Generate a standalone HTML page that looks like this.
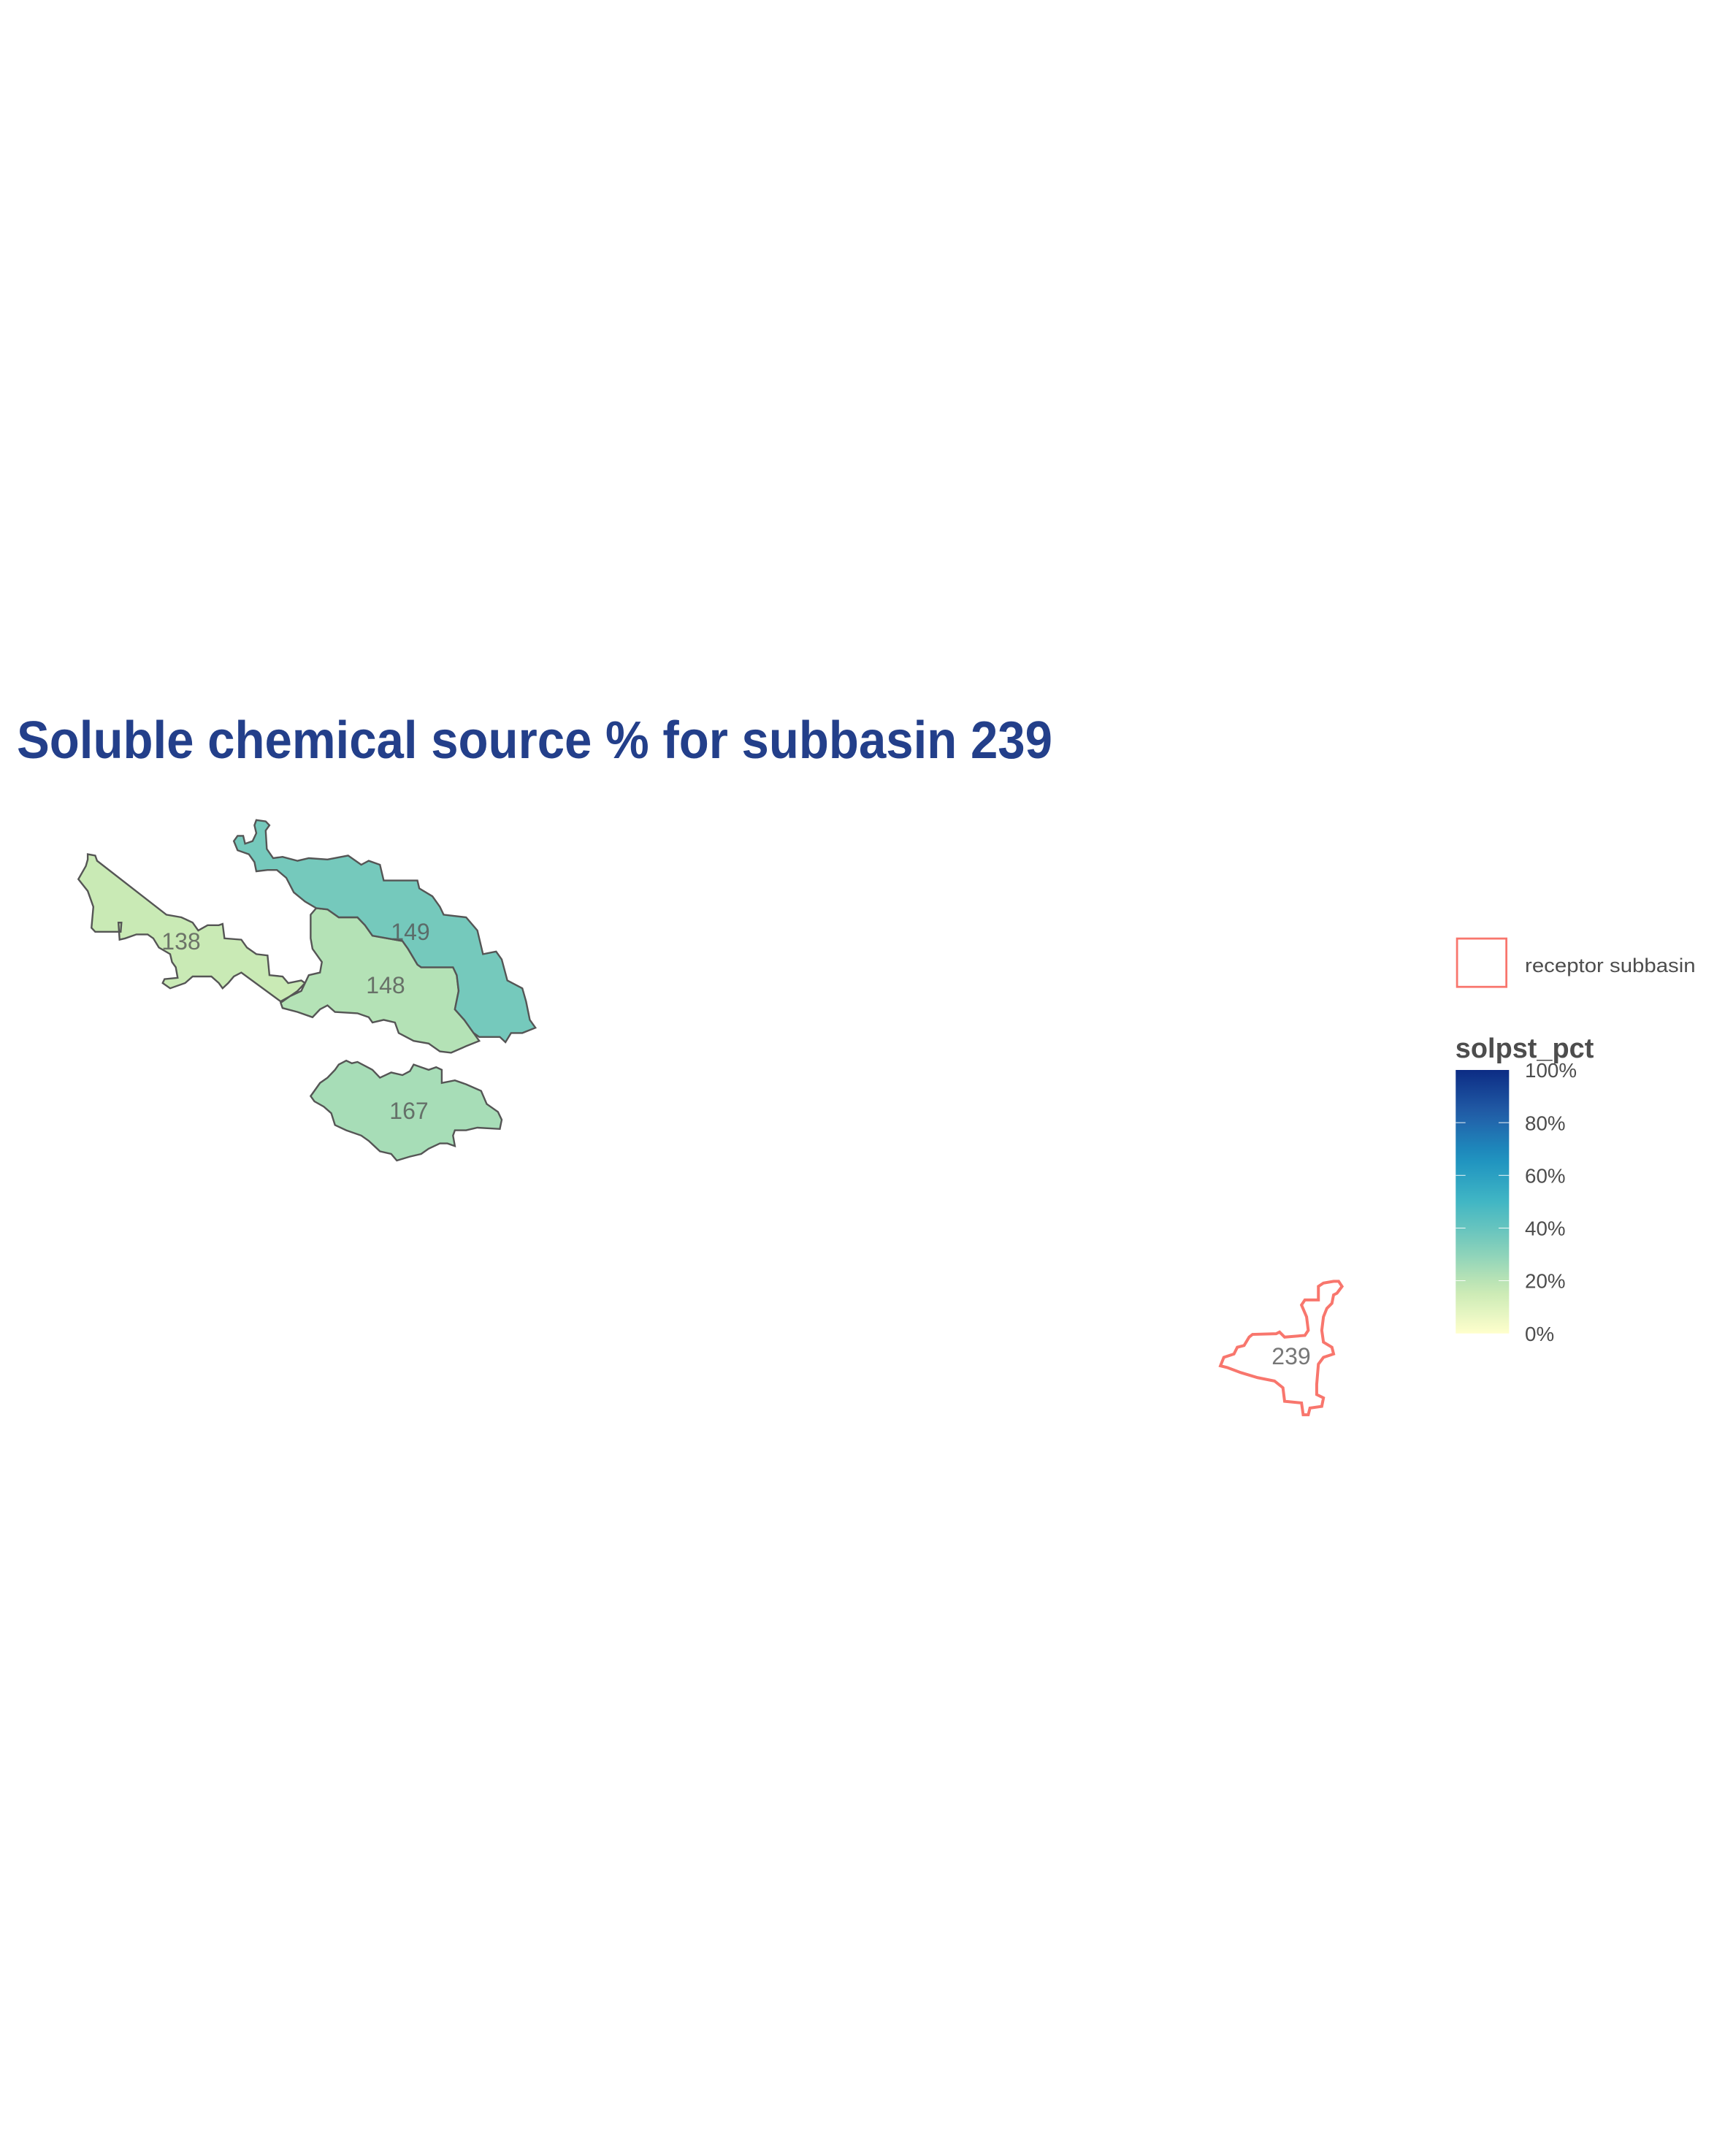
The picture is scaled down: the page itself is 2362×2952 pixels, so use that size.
<!DOCTYPE html>
<html><head><meta charset="utf-8"><style>
html,body{margin:0;padding:0;background:#fff;}
svg{display:block;}
</style></head><body>
<svg id="chart" width="2362" height="2952" viewBox="0 0 2362 2952" xmlns="http://www.w3.org/2000/svg" font-family="'Liberation Sans', Arial, sans-serif">
<rect width="2362" height="2952" fill="#ffffff"/>
<text x="23" y="1038" font-size="72" font-weight="bold" fill="#233F8A" textLength="1418" lengthAdjust="spacingAndGlyphs">Soluble chemical source % for subbasin 239</text>
<g id="sources" transform="translate(-3,1097.6) scale(0.513,0.36)"></g>
<g id="receptor" transform="translate(1648,1248) scale(0.4625,0.4625)"></g>
<g id="labels"></g>
<g id="legend" transform="translate(1645,1249) scale(0.4625,0.4625)"></g>
</svg>
<script>
const NS='http://www.w3.org/2000/svg';
// data
const subbasinIds=['138','148','149','167'];
const solpstPct=[16,21,36,24];
const receptorId='239';
const tickValues=[0,20,40,60,80,100];
const tickLabels=['0%','20%','40%','60%','80%','100%'];
const legendEntryLabel='receptor subbasin';
const scaleTitle='solpst_pct';

// geometry (shape outlines, in traced coordinate frames)
const shapes={
'149':[[690,70],[715,75],[725,90],[715,110],[718,180],[735,215],[760,210],[800,225],[830,215],[880,220],[935,205],[970,240],[990,225],[1020,240],[1030,300],[1080,300],[1120,300],[1125,330],[1160,360],[1180,400],[1190,430],[1250,440],[1280,490],[1295,580],[1330,570],[1345,600],[1360,680],[1400,710],[1410,760],[1420,830],[1435,860],[1400,880],[1370,880],[1355,915],[1340,895],[1285,895],[1270,880],[1245,830],[1220,790],[1230,720],[1225,660],[1215,630],[1130,630],[1120,620],[1095,560],[1080,530],[1040,520],[1000,510],[980,470],[960,440],[910,440],[880,410],[850,405],[820,380],[790,345],[770,290],[745,260],[720,260],[690,265],[685,230],[670,200],[640,185],[630,150],[640,130],[655,130],[660,160],[680,150],[690,120],[685,90]],
'148':[[850,405],[880,410],[910,440],[960,440],[980,470],[1000,510],[1040,520],[1080,530],[1095,560],[1120,620],[1130,630],[1215,630],[1225,660],[1230,720],[1220,790],[1245,830],[1270,880],[1285,910],[1250,930],[1210,955],[1180,950],[1150,920],[1110,910],[1070,880],[1060,840],[1030,830],[1000,840],[990,820],[960,805],[900,800],[880,775],[860,790],[840,820],[800,800],[760,785],[755,765],[780,740],[810,720],[830,660],[860,650],[865,610],[840,560],[835,520],[835,430]],
'138':[[240,200],[260,205],[265,225],[450,430],[490,440],[520,460],[535,490],[560,470],[590,470],[600,465],[605,520],[650,525],[665,555],[690,580],[720,585],[725,660],[760,665],[775,690],[810,680],[820,690],[800,720],[780,740],[755,760],[650,650],[630,665],[615,690],[600,710],[590,690],[570,665],[520,665],[500,690],[460,710],[440,690],[445,675],[480,670],[475,630],[465,610],[460,580],[430,555],[415,520],[400,505],[370,505],[340,520],[325,525],[322,460],[330,460],[328,495],[290,495],[260,495],[250,480],[255,400],[240,340],[215,295],[225,270],[235,245],[240,220]],
'167':[[930,985],[945,995],[960,990],[1000,1020],[1020,1050],[1050,1030],[1080,1040],[1100,1025],[1110,1000],[1130,1010],[1150,1020],[1170,1010],[1185,1020],[1185,1070],[1220,1060],[1250,1075],[1290,1100],[1305,1150],[1335,1180],[1345,1210],[1340,1245],[1280,1240],[1250,1250],[1220,1250],[1215,1270],[1220,1310],[1200,1300],[1180,1300],[1150,1320],[1130,1340],[1100,1350],[1065,1365],[1050,1340],[1020,1330],[990,1290],[970,1270],[930,1250],[900,1230],[890,1185],[870,1160],[845,1140],[835,1120],[850,1090],[860,1070],[880,1050],[900,1020],[910,1000]]
};
const receptorShape=[[400,1095],[410,1110],[395,1130],[385,1135],[380,1160],[365,1175],[355,1200],[350,1240],[355,1275],[380,1290],[385,1310],[355,1320],[340,1340],[335,1400],[335,1430],[355,1440],[350,1465],[315,1470],[310,1490],[295,1490],[290,1455],[240,1450],[235,1410],[210,1390],[160,1380],[110,1365],[70,1350],[50,1345],[60,1320],[90,1310],[100,1290],[120,1285],[135,1260],[145,1252],[215,1250],[225,1245],[240,1260],[300,1255],[310,1240],[305,1200],[290,1165],[300,1150],[340,1150],[340,1110],[355,1100],[385,1095]];
const labelPos={'138':[248,1300],'148':[528,1360],'149':[562,1287],'167':[560,1532],'239':[1768,1868]};

// YlGnBu colour scale (7-class)
const ylgnbu=['#ffffcc','#c7e9b4','#7fcdbb','#41b6c4','#1d91c0','#225ea8','#0c2c84'];
function hex(c){return [1,3,5].map(i=>parseInt(c.substr(i,2),16));}
function color(v){
  const t=Math.max(0,Math.min(1,v/100))*(ylgnbu.length-1);
  const i=Math.min(Math.floor(t),ylgnbu.length-2),f=t-i;
  const a=hex(ylgnbu[i]),b=hex(ylgnbu[i+1]);
  return 'rgb('+a.map((x,k)=>Math.round(x+(b[k]-x)*f)).join(',')+')';
}
function pts(arr){return arr.map(p=>p.join(',')).join(' ');}

const src=document.getElementById('sources');
subbasinIds.forEach((id,i)=>{
  const p=document.createElementNS(NS,'polygon');
  p.setAttribute('points',pts(shapes[id]));
  p.setAttribute('fill',color(solpstPct[i]));
  p.setAttribute('stroke','#555555');
  p.setAttribute('stroke-width','2.4');
  p.setAttribute('vector-effect','non-scaling-stroke');
  
  
  src.appendChild(p);
});
const rec=document.getElementById('receptor');
const rp=document.createElementNS(NS,'polygon');
rp.setAttribute('points',pts(receptorShape));
rp.setAttribute('fill','none');
rp.setAttribute('stroke','#F8766D');
rp.setAttribute('stroke-width','4');
rp.setAttribute('vector-effect','non-scaling-stroke');


rec.appendChild(rp);

const lab=document.getElementById('labels');
subbasinIds.concat([receptorId]).forEach(id=>{
  const t=document.createElementNS(NS,'text');
  t.setAttribute('x',labelPos[id][0]);t.setAttribute('y',labelPos[id][1]);
  t.setAttribute('text-anchor','middle');t.setAttribute('font-size','32');
  t.setAttribute('fill','#555555');t.setAttribute('fill-opacity','0.8');
  t.textContent=id;
  
  
  lab.appendChild(t);
});

// legend (traced frame coordinates)
const lg=document.getElementById('legend');
function el(tag,attrs,txt){const e=document.createElementNS(NS,tag);for(const k in attrs)e.setAttribute(k,attrs[k]);if(txt!==undefined)e.textContent=txt;lg.appendChild(e);return e;}
const box=el('rect',{x:757,y:78,width:146,height:143,fill:'none',stroke:'#F8766D','stroke-width':6});


const lt=el('text',{x:958,y:177,'font-size':58,fill:'#4d4d4d',textLength:505,lengthAdjust:'spacingAndGlyphs'},legendEntryLabel);


const st=el('text',{x:752,y:430,'font-size':82,'font-weight':'bold',fill:'#4d4d4d'},scaleTitle);


const defs=el('defs',{});
const gr=document.createElementNS(NS,'linearGradient');
gr.setAttribute('id','cbg');gr.setAttribute('x1','0');gr.setAttribute('y1','1');gr.setAttribute('x2','0');gr.setAttribute('y2','0');
for(let k=0;k<=20;k++){const s=document.createElementNS(NS,'stop');s.setAttribute('offset',k/20);s.setAttribute('stop-color',color(k*5));gr.appendChild(s);}
defs.appendChild(gr);
const barTop=467,barBot=1247;
function yScale(v){return barBot-(v/100)*(barBot-barTop);}
const bar=el('rect',{x:753,y:barTop,width:158,height:barBot-barTop,fill:'url(#cbg)'});


tickValues.forEach((v,i)=>{
  const y=yScale(v);
  if(v>0&&v<100){
    const l1=el('line',{x1:753,x2:782,y1:y,y2:y,stroke:'#fff','stroke-width':2});
    
    
    const l2=el('line',{x1:880,x2:911,y1:y,y2:y,stroke:'#fff','stroke-width':2});
    
    
  }
  const t=el('text',{x:958,y:y+22,'font-size':60,fill:'#4d4d4d'},tickLabels[i]);
  
  
});
</script>
</body></html>
